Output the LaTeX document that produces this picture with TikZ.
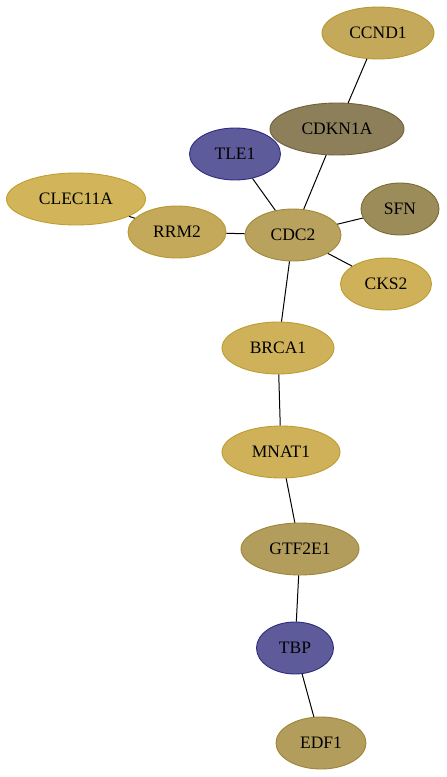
\documentclass[tikz,border=0pt]{standalone}
\usepackage{fontspec}
\setmainfont{Liberation Serif}
\usetikzlibrary{shapes.geometric}
\definecolor{cA}{HTML}{C4A95A}\definecolor{bA}{HTML}{B8982E}
\definecolor{cB}{HTML}{8C7F5A}\definecolor{bB}{HTML}{6E6238}
\definecolor{cT}{HTML}{5E5B9B}\definecolor{bT}{HTML}{2E2B80}
\definecolor{cC}{HTML}{D2B55A}\definecolor{bC}{HTML}{C09E30}
\definecolor{cD}{HTML}{B8A25E}\definecolor{bD}{HTML}{A08A38}
\definecolor{cS}{HTML}{9B8C5A}\definecolor{bS}{HTML}{7A6C36}
\definecolor{cK}{HTML}{CFB15A}\definecolor{bK}{HTML}{BC9C30}
\definecolor{cG}{HTML}{B39D5C}\definecolor{bG}{HTML}{9C8536}
\tikzset{
  gene/.style={ellipse, draw, line width=0.9pt, inner sep=0pt, minimum height=52pt,
    font=\fontsize{17.5}{20}\selectfont, text=black},
  link/.style={draw=black, line width=1pt}
}
\begin{document}
\begin{tikzpicture}[x=1pt,y=1pt]
\useasboundingbox (0,0) rectangle (447,-777);
\node[gene, fill=cA, draw=bA, minimum width=112pt] (CCND1) at (378,-33) {CCND1};
\node[gene, fill=cB, draw=bB, minimum width=134pt] (CDKN1A) at (337,-129) {CDKN1A};
\node[gene, fill=cT, draw=bT, minimum width=91pt] (TLE1) at (235,-154) {TLE1};
\node[gene, fill=cC, draw=bC, minimum width=139pt] (CLEC11A) at (76,-199) {CLEC11A};
\node[gene, fill=cA, draw=bA, minimum width=98pt] (RRM2) at (177,-232) {RRM2};
\node[gene, fill=cD, draw=bD, minimum width=96pt] (CDC2) at (293,-235) {CDC2};
\node[gene, fill=cS, draw=bS, minimum width=78pt] (SFN) at (400,-209) {SFN};
\node[gene, fill=cK, draw=bK, minimum width=91pt] (CKS2) at (386,-284) {CKS2};
\node[gene, fill=cK, draw=bK, minimum width=112pt] (BRCA1) at (278,-348) {BRCA1};
\node[gene, fill=cK, draw=bK, minimum width=118pt] (MNAT1) at (281,-452) {MNAT1};
\node[gene, fill=cG, draw=bG, minimum width=118pt] (GTF2E1) at (300,-549) {GTF2E1};
\node[gene, fill=cT, draw=bT, minimum width=77pt] (TBP) at (295,-648) {TBP};
\node[gene, fill=cG, draw=bG, minimum width=90pt] (EDF1) at (321,-743) {EDF1};
\path[link] (CCND1) -- (CDKN1A);
\path[link] (CDKN1A) -- (CDC2);
\path[link] (TLE1) -- (CDC2);
\path[link] (CLEC11A) -- (RRM2);
\path[link] (RRM2) -- (CDC2);
\path[link] (CDC2) -- (SFN);
\path[link] (CDC2) -- (CKS2);
\path[link] (CDC2) -- (BRCA1);
\path[link] (BRCA1) -- (MNAT1);
\path[link] (MNAT1) -- (GTF2E1);
\path[link] (GTF2E1) -- (TBP);
\path[link] (TBP) -- (EDF1);
\end{tikzpicture}
\end{document}
